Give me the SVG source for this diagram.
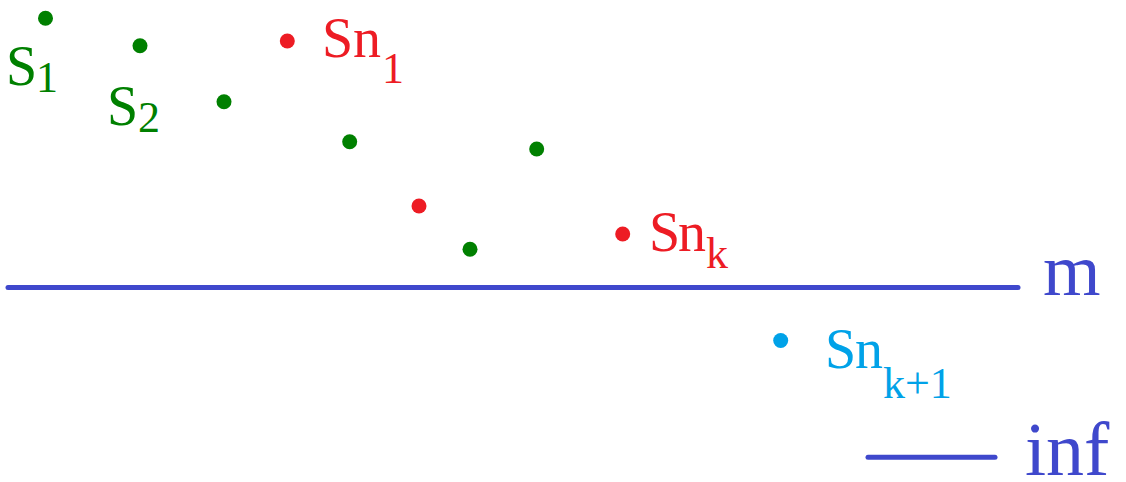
<svg xmlns="http://www.w3.org/2000/svg" width="1126" height="482" viewBox="0 0 1126 482">
<style>
text{font-family:"Liberation Serif","Times New Roman",serif}
.g{fill:#008000}.r{fill:#ed1c24}.c{fill:#00a2e8}.b{fill:#3f48cc}
.main{font-size:56px}.sub{font-size:44px}
.ln{stroke:#3f48cc;stroke-width:5;stroke-linecap:round;fill:none}
</style>
<rect width="1126" height="482" fill="#fff"/>
<g id="points">
<circle class="g" cx="45.5" cy="18.3" r="7.5"/>
<circle class="g" cx="140" cy="45.7" r="7.5"/>
<circle class="r" cx="287.3" cy="41" r="7.5"/>
<circle class="g" cx="224" cy="101.7" r="7.5"/>
<circle class="g" cx="349.7" cy="141.7" r="7.5"/>
<circle class="g" cx="536.7" cy="149" r="7.5"/>
<circle class="r" cx="419" cy="206" r="7.5"/>
<circle class="g" cx="470" cy="249.3" r="7.5"/>
<circle class="r" cx="622.7" cy="234" r="7.5"/>
<circle class="c" cx="780.7" cy="340.5" r="7.5"/>
</g>
<g id="labels">
<text class="g"><tspan class="main" x="6" y="85">S</tspan><tspan class="sub" x="36" y="92">1</tspan></text>
<text class="g"><tspan class="main" x="107" y="125">S</tspan><tspan class="sub" x="138" y="132">2</tspan></text>
<text class="r"><tspan class="main" x="322" y="57">S</tspan><tspan class="main" x="353" y="57">n</tspan><tspan class="sub" x="382" y="83">1</tspan></text>
<text class="r"><tspan class="main" x="649" y="251">S</tspan><tspan class="main" x="678" y="251">n</tspan><tspan class="sub" x="706" y="268">k</tspan></text>
<text class="c"><tspan class="main" x="825" y="368">S</tspan><tspan class="main" x="855" y="368">n</tspan><tspan class="sub" x="883" y="398">k+1</tspan></text>
</g>
<g id="connectors">
<line class="ln" x1="8" y1="287.5" x2="1018" y2="287.5"/>
<line class="ln" x1="868" y1="457.3" x2="995" y2="457.3"/>
</g>
<g id="axis-labels">
<text class="b" x="1043" y="295" font-size="74">m</text>
<text class="b" x="1025" y="475" font-size="76">inf</text>
</g>
</svg>
